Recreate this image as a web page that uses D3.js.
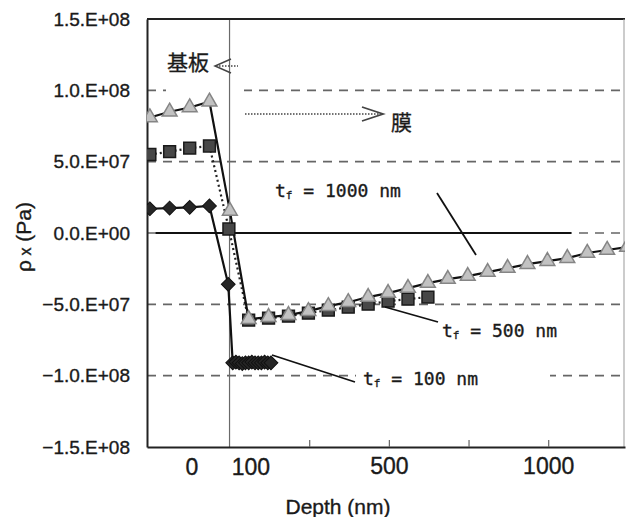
<!DOCTYPE html>
<html>
<head>
<meta charset="utf-8">
<script src="https://cdn.jsdelivr.net/npm/d3@7"></script>
<style>
  body { margin: 0; background: #fff; }
  svg { display: block; }
  text { stroke: #1a1a1a; stroke-width: 0.35px; }
</style>
</head>
<body>
<div id="container"></div>
<script>
let w = 626;
let h = 517;
let m = {left: 147, right: 1, top: 19, bottom: 70};

// y ticks and their labels, as printed
let yTicks = [-1.5e8, -1.0e8, -5.0e7, 0, 5.0e7, 1.0e8, 1.5e8];
let yTickLabels = ["\u22121.5.E+08", "\u22121.0.E+08", "\u22125.0.E+07", "0.0.E+00", "5.0.E+07", "1.0.E+08", "1.5.E+08"];
let gridValues = [-1.0e8, -5.0e7, 0, 5.0e7, 1.0e8];
// x ticks (only 500 and 1000 carry a label) plus the two hand-placed labels
let xTicks = [250, 500, 750, 1000];
let xTickLabels = ["", "500", "", "1000"];
let xExtraLabels = ["0", "100"];
let xExtraDepths = [-118, 67];

// tf = 1000 nm  (triangles)
let triDepth = [-250, -188, -125, -63, 1, 60, 122.5, 185, 247.5, 310, 372.5, 435, 497.5, 560, 622.5, 685, 747.5, 810, 872.5, 935, 997.5, 1060, 1122.5, 1185, 1247.5];
let triValue = [8.1e7, 8.5e7, 8.8e7, 9.2e7, 1.55e7, -6.04e7, -5.9e7, -5.76e7, -5.48e7, -5.13e7, -4.85e7, -4.49e7, -4.21e7, -3.86e7, -3.51e7, -3.23e7, -3.02e7, -2.74e7, -2.46e7, -2.18e7, -1.97e7, -1.76e7, -1.4e7, -1.19e7, -0.98e7];
// tf = 500 nm  (squares)
let sqDepth = [-250, -188, -125, -63, -2, 60, 122.5, 185, 247.5, 310, 372.5, 435, 497.5, 560, 622.5];
let sqValue = [5.5e7, 5.7e7, 5.95e7, 6.1e7, 0.28e7, -6.11e7, -5.97e7, -5.83e7, -5.62e7, -5.41e7, -5.2e7, -4.99e7, -4.78e7, -4.63e7, -4.49e7];
// tf = 100 nm  (diamonds)
let diaDepth = [-250, -188, -125, -63, -4, 10, 20, 30, 40, 50, 60, 70, 80, 90, 100, 110, 120, 130];
let diaValue = [1.7e7, 1.75e7, 1.8e7, 1.9e7, -3.6e7, -9.1e7, -9.05e7, -9.1e7, -9.15e7, -9.1e7, -9.1e7, -9.05e7, -9.1e7, -9.1e7, -9.1e7, -9.05e7, -9.1e7, -9.1e7];
// solid reference line at zero
let zeroDepth = [-232, 1072];
let zeroValue = [0, 0];

let viz = d3.select("#container")
  .append("svg")
    .attr("width", w)
    .attr("height", h)
    .style("background-color", "white")
;

let xScale = d3.scaleLinear().domain([-259, 1241]).range([m.left, w - m.right]);
let yScale = d3.scaleLinear().domain([-1.5e8, 1.5e8]).range([h - m.bottom, m.top]);

viz.append("clipPath").attr("id", "plotclip")
  .append("rect")
    .attr("x", m.left).attr("y", m.top)
    .attr("width", w - m.left - m.right).attr("height", h - m.top - m.bottom);

// dashed gridlines
viz.append("g").selectAll("line").data(gridValues).enter()
  .append("line")
    .attr("x1", m.left)
    .attr("x2", w - m.right)
    .attr("y1", d => yScale(d))
    .attr("y2", d => yScale(d))
    .attr("stroke", "#666")
    .attr("stroke-width", 1.7)
    .attr("stroke-dasharray", "9,7")
;

// white label boxes (they hide parts of the grid, as in the scan)
viz.append("rect").attr("x", 166).attr("y", 80).attr("width", 78).attr("height", 18).attr("fill", "white");
viz.append("rect").attr("x", 356).attr("y", 366).attr("width", 194).attr("height", 22).attr("fill", "white");

// substrate / film boundary
viz.append("line")
  .attr("x1", xScale(0)).attr("x2", xScale(0))
  .attr("y1", m.top).attr("y2", h - m.bottom)
  .attr("stroke", "#6a6a6a").attr("stroke-width", 1.2);

// frame
viz.append("line").attr("x1", m.left).attr("x2", w - m.right).attr("y1", m.top).attr("y2", m.top)
  .attr("stroke", "#222").attr("stroke-width", 2);
viz.append("line").attr("x1", w - m.right - 1).attr("x2", w - m.right - 1).attr("y1", m.top).attr("y2", h - m.bottom)
  .attr("stroke", "#999").attr("stroke-width", 1);

// axes
let yAxis = d3.axisLeft(yScale).tickValues(yTicks).tickFormat((d, i) => yTickLabels[i]).tickSize(0).tickPadding(17);
let yAxisGroup = viz.append("g").attr("class", "yaxis")
  .attr("transform", "translate(" + m.left + ",0)")
  .call(yAxis);
yAxisGroup.select(".domain").attr("stroke", "#222").attr("stroke-width", 2);
yAxisGroup.selectAll("text")
  .attr("fill", "#1a1a1a")
  .style("font-family", "'Liberation Sans', Arial, sans-serif")
  .style("font-size", "19px");

let xAxis = d3.axisBottom(xScale).tickValues(xTicks).tickFormat((d, i) => xTickLabels[i]).tickSizeInner(-7).tickSizeOuter(0).tickPadding(11);
let xAxisGroup = viz.append("g").attr("class", "xaxis")
  .attr("transform", "translate(0," + (h - m.bottom) + ")")
  .call(xAxis);
xAxisGroup.select(".domain").attr("stroke", "#222").attr("stroke-width", 2);
xAxisGroup.selectAll(".tick line").attr("stroke", "#666").attr("stroke-width", 1.2);
xAxisGroup.selectAll("text")
  .attr("fill", "#1a1a1a")
  .style("font-family", "'Liberation Sans', Arial, sans-serif")
  .style("font-size", "23px");

viz.append("g").selectAll("text").data(xExtraLabels).enter()
  .append("text")
    .attr("x", (d, i) => xScale(xExtraDepths[i]))
    .attr("y", h - m.bottom + 28)
    .attr("text-anchor", "middle")
    .attr("fill", "#1a1a1a")
    .style("font-family", "'Liberation Sans', Arial, sans-serif")
    .style("font-size", "23px")
    .text(d => d)
;

// series
let plot = viz.append("g").attr("clip-path", "url(#plotclip)");
function pts(ds, vs) {
  return ds.map((d, i) => [d, vs[i]]);
}
let line = d3.line().x(d => xScale(d[0])).y(d => yScale(d[1]));

plot.append("path").datum(pts(zeroDepth, zeroValue))
  .attr("d", line).attr("fill", "none").attr("stroke", "#111").attr("stroke-width", 2.2);

plot.append("path").datum(pts(diaDepth, diaValue))
  .attr("d", line).attr("fill", "none").attr("stroke", "#111").attr("stroke-width", 2.2);
plot.append("path").datum(pts(sqDepth, sqValue))
  .attr("d", line).attr("fill", "none").attr("stroke", "#222").attr("stroke-width", 2.2).attr("stroke-dasharray", "2,3");
plot.append("path").datum(pts(triDepth, triValue))
  .attr("d", line).attr("fill", "none").attr("stroke", "#111").attr("stroke-width", 2.2);

let diamond = d3.symbol().type(d3.symbolSquare).size(95);
let square = d3.symbol().type(d3.symbolSquare).size(140);
let triangle = d3.symbol().type(d3.symbolTriangle).size(95);

plot.append("g").selectAll("path").data(pts(diaDepth, diaValue)).enter()
  .append("path")
    .attr("d", diamond)
    .attr("transform", d => "translate(" + xScale(d[0]) + "," + yScale(d[1]) + ") rotate(45)")
    .attr("fill", "#262626").attr("stroke", "#111").attr("stroke-width", 1)
;
plot.append("g").selectAll("path").data(pts(sqDepth, sqValue)).enter()
  .append("path")
    .attr("d", square)
    .attr("transform", d => "translate(" + xScale(d[0]) + "," + yScale(d[1]) + ")")
    .attr("fill", "#474747").attr("stroke", "#1a1a1a").attr("stroke-width", 1.5)
;
plot.append("g").selectAll("path").data(pts(triDepth, triValue)).enter()
  .append("path")
    .attr("d", triangle)
    .attr("transform", d => "translate(" + xScale(d[0]) + "," + yScale(d[1]) + ")")
    .attr("fill", "#c2c2c2").attr("stroke", "#858585").attr("stroke-width", 1.5)
;

// annotations
let ann = viz.append("g").attr("class", "annotations");
ann.append("text").attr("x", 167).attr("y", 70)
  .attr("fill", "#1a1a1a")
  .style("font-family", "'Noto Sans CJK JP', sans-serif").style("font-size", "21px")
  .text("基板");
ann.append("line").attr("x1", 216).attr("x2", 238).attr("y1", 66).attr("y2", 66)
  .attr("stroke", "#444").attr("stroke-width", 1.5).attr("stroke-dasharray", "1.5,1.5");
ann.append("path").attr("d", "M231,59 L215,66 L231,73")
  .attr("fill", "none").attr("stroke", "#444").attr("stroke-width", 1.5);

ann.append("line").attr("x1", 245).attr("x2", 382).attr("y1", 114).attr("y2", 114)
  .attr("stroke", "#444").attr("stroke-width", 1.5).attr("stroke-dasharray", "1.5,1.5");
ann.append("path").attr("d", "M362,107 L383,114 L362,121")
  .attr("fill", "none").attr("stroke", "#444").attr("stroke-width", 1.8);
ann.append("text").attr("x", 391).attr("y", 130)
  .attr("fill", "#1a1a1a")
  .style("font-family", "'Noto Sans CJK JP', sans-serif").style("font-size", "21px")
  .text("膜");

let tfLabels = [
  {num: "1000", x: 275, y: 197},
  {num: "500", x: 442, y: 337},
  {num: "100", x: 363, y: 385}
];
tfLabels.forEach(function(t) {
  let txt = ann.append("text").attr("x", t.x).attr("y", t.y)
    .attr("fill", "#1a1a1a")
    .style("font-family", "'DejaVu Sans Mono', monospace")
    .style("font-size", "18px");
  txt.append("tspan").text("t");
  txt.append("tspan").attr("dy", 2).style("font-size", "11px").text("f");
  txt.append("tspan").attr("dy", -2).text(" = " + t.num + " nm");
});
// leader lines
ann.append("line").attr("x1", 437).attr("y1", 193).attr("x2", 476).attr("y2", 255).attr("stroke", "#111").attr("stroke-width", 1.8);
ann.append("line").attr("x1", 385).attr("y1", 307).attr("x2", 438).attr("y2", 322).attr("stroke", "#111").attr("stroke-width", 1.8);
ann.append("line").attr("x1", 272).attr("y1", 355).attr("x2", 355).attr("y2", 382).attr("stroke", "#111").attr("stroke-width", 1.8);

// axis titles
let yTitle = viz.append("text")
  .attr("transform", "translate(31,237) rotate(-90)")
  .attr("text-anchor", "middle")
  .attr("fill", "#1a1a1a")
  .style("font-family", "'Liberation Sans', Arial, sans-serif")
  .style("font-size", "21px");
yTitle.append("tspan").text("\u03c1");
yTitle.append("tspan").style("font-size", "16px").text(" x");
yTitle.append("tspan").text(" (Pa)");

viz.append("text")
  .attr("x", 338).attr("y", 514)
  .attr("text-anchor", "middle")
  .attr("fill", "#1a1a1a")
  .style("font-family", "'Liberation Sans', Arial, sans-serif")
  .style("font-size", "21px")
  .text("Depth (nm)");
</script>
</body>
</html>
